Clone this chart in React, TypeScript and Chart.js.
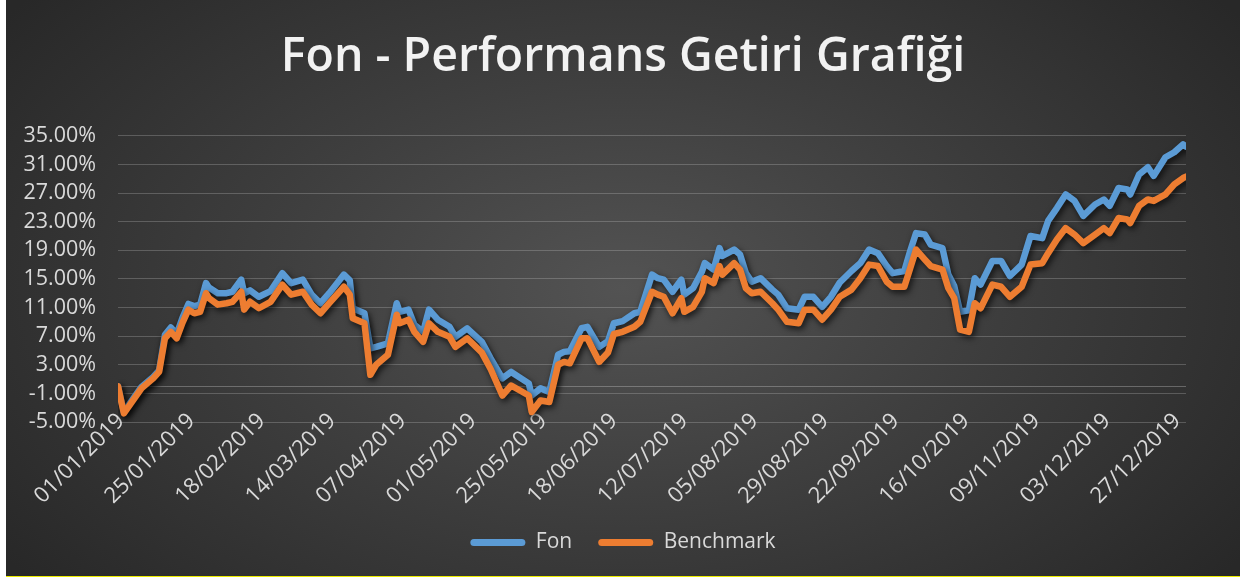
import React, { useEffect, useRef } from 'react';
import { Chart, registerables } from 'chart.js';

Chart.register(...registerables);

// X axis: day index within 2019 and the tick labels shown every 24 days
const xTickDays = [0, 24, 48, 72, 96, 120, 144, 168, 192, 216, 240, 264, 288, 312, 336, 360];
const xTickLabels = [
  '01/01/2019', '25/01/2019', '18/02/2019', '14/03/2019', '07/04/2019', '01/05/2019',
  '25/05/2019', '18/06/2019', '12/07/2019', '05/08/2019', '29/08/2019', '22/09/2019',
  '16/10/2019', '09/11/2019', '03/12/2019', '27/12/2019',
];
const yTickValues = [-5, -1, 3, 7, 11, 15, 19, 23, 27, 31, 35];

// Sampled observation days (day of year, 0 = 01/01/2019)
const sampleDays = [
  0, 2, 8, 12, 14, 16, 18, 20, 22, 24, 26, 28, 30, 31, 34, 37, 39, 42, 43, 45,
  48, 52, 56, 59, 63, 66, 69, 72, 77, 79, 80, 84, 86, 88, 92, 95, 96, 99, 101, 104,
  106, 109, 113, 115, 119, 124, 127, 131, 134, 140, 141, 144, 147, 150, 152, 154, 158, 160, 164, 167,
  169, 172, 176, 178, 182, 184, 186, 189, 192, 193, 196, 199, 200, 203, 205, 206, 210, 212, 214, 216,
  219, 223, 225, 228, 232, 234, 237, 240, 243, 246, 250, 253, 256, 259, 262, 264, 268, 270, 272, 275,
  277, 281, 283, 285, 287, 290, 292, 294, 298, 301, 304, 308, 311, 315, 317, 320, 323, 326, 329, 333,
  336, 338, 341, 344, 345, 348, 351, 353, 357, 360, 363, 364,
];

// Cumulative return, percent
const fonValues = [
  0.0, -3.6, -0.1, 1.3, 2.2, 7.2, 8.2, 7.3, 9.6, 11.5, 11.2, 11.4, 14.4, 13.8, 13.0, 13.0, 13.2, 14.9, 13.0, 13.4,
  12.5, 13.3, 15.8, 14.4, 14.9, 12.8, 11.6, 13.0, 15.6, 14.8, 10.9, 10.2, 5.3, 5.5, 6.0, 11.6, 10.4, 10.7, 8.6, 7.6,
  10.7, 9.3, 8.3, 6.9, 8.1, 6.2, 3.9, 1.1, 2.0, 0.4, -1.3, -0.3, -0.8, 4.4, 4.8, 4.9, 8.1, 8.3, 5.5, 6.3,
  8.8, 9.1, 10.2, 10.4, 15.6, 15.1, 14.9, 13.2, 14.9, 12.8, 13.7, 16.0, 17.2, 16.3, 19.3, 18.2, 19.1, 18.4, 15.8, 14.6,
  15.1, 13.5, 12.8, 10.9, 10.7, 12.5, 12.5, 11.1, 12.5, 14.5, 16.1, 17.2, 19.1, 18.6, 16.8, 15.8, 16.1, 18.9, 21.4, 21.2,
  19.8, 19.3, 15.6, 14.0, 10.4, 10.6, 15.1, 14.2, 17.5, 17.5, 15.4, 17.0, 21.0, 20.7, 23.1, 24.9, 26.8, 25.9, 23.8, 25.4,
  26.1, 25.2, 27.7, 27.5, 26.8, 29.6, 30.6, 29.4, 32.0, 32.7, 33.8, 33.5,
];

const benchmarkValues = [
  0.0, -3.8, -0.3, 1.1, 2.0, 6.7, 7.6, 6.7, 8.9, 10.7, 10.2, 10.4, 13.0, 12.3, 11.4, 11.6, 11.8, 13.2, 10.7, 11.8,
  10.9, 11.8, 14.2, 12.8, 13.2, 11.4, 10.2, 11.6, 13.9, 12.8, 9.5, 8.8, 1.6, 3.0, 4.4, 10.0, 8.8, 9.3, 7.6, 6.2,
  8.8, 7.6, 6.9, 5.5, 6.7, 4.7, 2.4, -1.3, 0.1, -1.3, -3.6, -2.0, -2.2, 3.0, 3.4, 3.2, 6.7, 6.7, 3.4, 4.7,
  7.3, 7.6, 8.3, 9.0, 13.2, 12.8, 12.5, 10.2, 12.3, 10.4, 11.1, 13.2, 15.1, 14.4, 16.8, 15.6, 17.2, 16.3, 13.7, 13.0,
  13.2, 11.6, 10.7, 9.0, 8.8, 10.7, 10.7, 9.3, 10.7, 12.5, 13.5, 15.1, 17.0, 16.8, 14.6, 13.9, 13.9, 16.5, 19.1, 17.7,
  16.8, 16.3, 13.7, 12.3, 7.9, 7.6, 11.6, 10.9, 14.2, 13.9, 12.5, 13.9, 17.0, 17.2, 18.6, 20.5, 22.1, 21.2, 20.0, 21.2,
  22.1, 21.4, 23.5, 23.3, 22.8, 25.2, 26.1, 25.9, 26.8, 28.2, 29.1, 29.3,
];

const FONT = 'Open Sans';
const TEXT = '#d9d9d9';

const lineShadow = {
  id: 'lineShadow',
  beforeDatasetDraw(chart: any) {
    const ctx = chart.ctx;
    ctx.save();
    ctx.shadowColor = 'rgba(0,0,0,0.7)';
    ctx.shadowBlur = 6;
    ctx.shadowOffsetX = 2;
    ctx.shadowOffsetY = 3;
  },
  afterDatasetDraw(chart: any) {
    chart.ctx.restore();
  },
};

const zeroLine = {
  id: 'zeroLine',
  beforeDatasetsDraw(chart: any) {
    const { ctx, chartArea, scales } = chart;
    const py = Math.round(scales.y.getPixelForValue(0)) + 0.5;
    ctx.save();
    ctx.strokeStyle = 'rgba(217,217,217,0.32)';
    ctx.lineWidth = 1;
    ctx.beginPath();
    ctx.moveTo(chartArea.left, py);
    ctx.lineTo(chartArea.right, py);
    ctx.stroke();
    ctx.restore();
  },
};

// Let tick labels extend beyond their scale box (no label clipping)
const noLabelClip = (s: any) => {
  s._computeLabelArea = () => undefined;
};

export default function App() {
  const canvasRef = useRef<HTMLCanvasElement>(null);

  useEffect(() => {
    document.body.style.margin = '0';
    const canvas = canvasRef.current;
    if (!canvas) return;
    const fonData = sampleDays.map((d, i) => ({ x: d, y: fonValues[i] }));
    const benchData = sampleDays.map((d, i) => ({ x: d, y: benchmarkValues[i] }));

    const chart = new Chart(canvas, {
      type: 'line',
      data: {
        datasets: [
          {
            label: 'Fon',
            data: fonData,
            borderColor: '#5b9bd5',
            backgroundColor: '#5b9bd5',
            borderWidth: 6.5,
            pointRadius: 0,
            borderJoinStyle: 'round',
            borderCapStyle: 'round',
            order: 1,
          },
          {
            label: 'Benchmark',
            data: benchData,
            borderColor: '#ed7d31',
            backgroundColor: '#ed7d31',
            borderWidth: 6.5,
            pointRadius: 0,
            borderJoinStyle: 'round',
            borderCapStyle: 'round',
            order: 0,
          },
        ],
      },
      options: {
        responsive: false,
        animation: false,
        layout: { padding: { left: 54, right: 54, top: 0, bottom: 13 } },
        plugins: {
          title: {
            display: true,
            text: 'Fon - Performans Getiri Grafiği',
            color: '#f2f2f2',
            font: { family: FONT, size: 46.5, weight: '600' },
            padding: { top: 30, bottom: 50 },
          },
          legend: {
            position: 'bottom',
            labels: {
              color: TEXT,
              font: { family: FONT, size: 21 },
              boxWidth: 55,
              boxHeight: 7,
              padding: 26,
              useBorderRadius: true,
              borderRadius: 3.5,
              sort: (a: any, b: any) => a.datasetIndex - b.datasetIndex,
              generateLabels: (ch: any) =>
                Chart.defaults.plugins.legend.labels
                  .generateLabels(ch)
                  .map((l: any) => ({ ...l, lineWidth: 0 })),
            },
          },
          tooltip: { enabled: false },
        },
        scales: {
          x: {
            type: 'linear',
            min: 0,
            max: 364,
            afterBuildTicks: (s: any) => {
              s.ticks = xTickDays.map((v) => ({ value: v }));
            },
            afterFit: (s: any) => {
              s.height = 84;
              noLabelClip(s);
            },
            grid: { display: false },
            border: { display: false },
            ticks: {
              autoSkip: false,
              maxRotation: 45,
              minRotation: 45,
              color: TEXT,
              font: { family: FONT, size: 22 },
              padding: -22,
              labelOffset: 3,
              callback: (_v: any, i: number) => xTickLabels[i],
            },
          },
          y: {
            min: -5,
            max: 35,
            afterBuildTicks: (s: any) => {
              s.ticks = yTickValues.map((v) => ({ value: v }));
            },
            afterFit: (s: any) => {
              s.width = 58;
              noLabelClip(s);
            },
            grid: { color: 'rgba(217,217,217,0.25)', drawTicks: false, lineWidth: 1 },
            border: { display: false },
            ticks: {
              autoSkip: false,
              color: TEXT,
              font: { family: FONT, size: 21.5 },
              padding: 22,
              callback: (v: any) => Number(v).toFixed(2) + '%',
            },
          },
        },
      },
      plugins: [zeroLine, lineShadow],
    } as any);

    return () => chart.destroy();
  }, []);

  return (
    <div style={{ position: 'relative', width: 1244, height: 581, background: '#ffffff', overflow: 'hidden' }}>
      <div
        style={{
          position: 'absolute',
          left: 6,
          top: 0,
          width: 1234,
          height: 576,
          background: 'radial-gradient(ellipse 62% 80% at 50% 50%, #535353 0%, #3f3f3f 45%, #282828 100%)',
          borderBottom: '1px solid #ecec00',
        }}
      >
        <canvas ref={canvasRef} width={1234} height={576} style={{ display: 'block', width: 1234, height: 576 }} />
      </div>
    </div>
  );
}
